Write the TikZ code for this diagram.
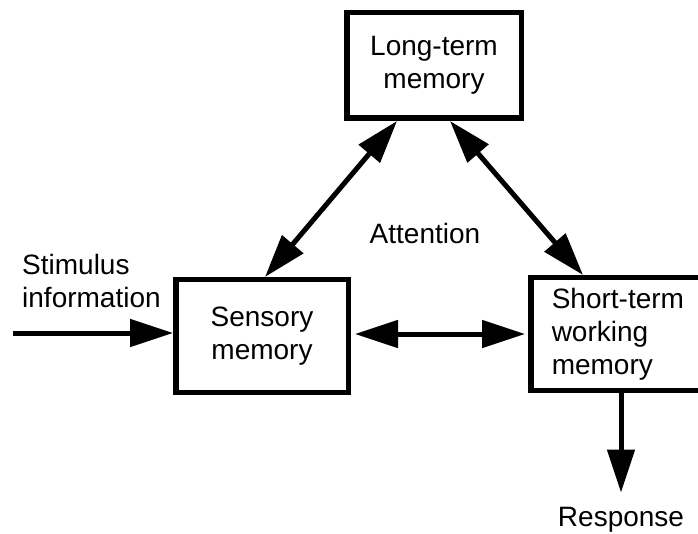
\documentclass[tikz,border=0pt]{standalone}
\usepackage{fontspec}
\setmainfont{Liberation Sans}
\usetikzlibrary{arrows.meta,calc}
\begin{document}
\begin{tikzpicture}[x=1pt,y=-1pt,
  every node/.style={font=\fontsize{28}{33}\selectfont},
  membox/.style={draw,line width=5.5pt,inner sep=0pt,align=center},
  plain/.style={inner sep=0pt,align=left},
  link/.style={line width=5pt,-{Triangle[length=43pt,width=27pt]}},
  duplex/.style={line width=5pt,{Triangle[length=43pt,width=27pt]}-{Triangle[length=43pt,width=27pt]}}]
\useasboundingbox (0,0) rectangle (698,534);
\clip (0,0) rectangle (698,534);

% memory stores
\node[membox,minimum width=174.5,minimum height=105.5] (lt) at (434,65.5) {Long-term\\memory};
\node[membox,minimum width=172.5,minimum height=112.5] (sm) at (262,336) {Sensory\\memory};
\node[membox,anchor=west,minimum width=260,minimum height=112.5,
      inner xsep=21pt,text width=218pt,align=left] (st) at (528,334)
      {Short-term\\working\\memory};

% free labels
\node[plain,anchor=north west] (stim) at (22,254.5) {Stimulus\\information};
\node (att) at (425,233) {Attention};
\node[plain,anchor=north] (resp) at (621,507.5) {Response};

% connectors
\coordinate (in) at (13,333);
\draw[link] (in) -- (in -| sm.west);
\draw[duplex] ([xshift=4pt]sm.east |- st.west) -- ([xshift=-3pt]st.west);
\draw[duplex] ([xshift=-37pt]lt.south) -- ([xshift=3pt]sm.north);
\draw[duplex] ([xshift=16pt]lt.south) -- ([xshift=55pt]st.north west);
\draw[link,shorten >=15pt] (st.south west -| resp.north) -- (resp.north);
\end{tikzpicture}
\end{document}
